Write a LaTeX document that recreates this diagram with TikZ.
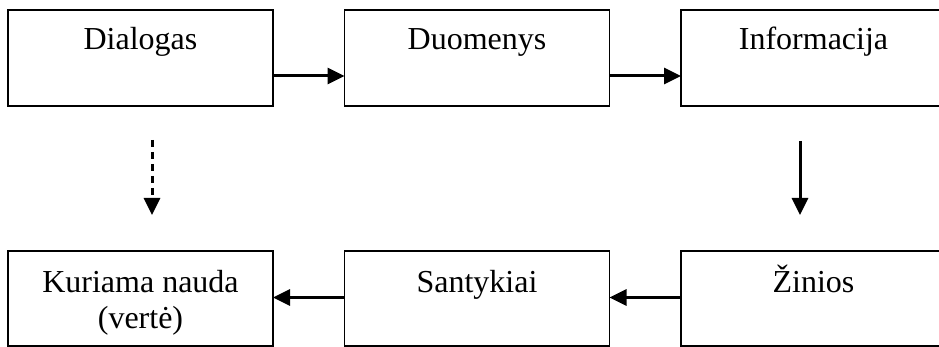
\documentclass[tikz,border=0pt]{standalone}
\usepackage{fontspec}
\setmainfont{Liberation Serif}
\usetikzlibrary{arrows.meta,calc}
\begin{document}
\begin{tikzpicture}[x=1pt,y=-1pt,
  box/.style={draw=black,line width=1.8pt,minimum width=265pt,minimum height=96pt,inner sep=0pt,outer sep=0pt},
  txt/.style={anchor=base,inner sep=0pt,font=\fontsize{32}{36}\selectfont},
  arr/.style={line width=3pt,-{Triangle[length=17pt,width=16pt]}},
  darr/.style={arr,dash pattern=on 7pt off 5pt}]
\useasboundingbox (0,0) rectangle (939,347);
\clip (0,0) rectangle (939,347);
% top row
\node[box] (d) at (140.5,58) {};
\node[box] (du) at (477,58) {};
\node[box] (inf) at (813.5,58) {};
% bottom row
\node[box,minimum height=95pt] (k) at (140.5,298.5) {};
\node[box,minimum height=95pt] (s) at (477,298.5) {};
\node[box,minimum height=95pt] (z) at (813.5,298.5) {};
% texts
\node[txt] (td) at (140.5,50) {Dialogas};
\node[txt] (tdu) at (477,50) {Duomenys};
\node[txt] (tinf) at (813.5,50) {Informacija};
\node[txt] (tk1) at (140.5,292) {Kuriama nauda};
\node[txt] (tk2) at (140.5,328) {(vertė)};
\node[txt] (ts) at (477,292) {Santykiai};
\node[txt] (tz) at (813.5,292) {Žinios};
% horizontal arrows
\draw[arr] ([yshift=-18pt]d.east) -- ([yshift=-18pt]du.west);
\draw[arr] ([yshift=-18pt]du.east) -- ([yshift=-18pt]inf.west);
\draw[arr] ([yshift=1pt]z.west) -- ([yshift=1pt]s.east);
\draw[arr] ([yshift=1pt]s.west) -- ([yshift=1pt]k.east);
% vertical arrows
\coordinate (v1a) at (152,140);
\coordinate (v1b) at (152,215);
\coordinate (v2a) at (800,141);
\coordinate (v2b) at (800,215);
\draw[darr] (v1a) -- (v1b);
\draw[arr] (v2a) -- (v2b);
\end{tikzpicture}
\end{document}
